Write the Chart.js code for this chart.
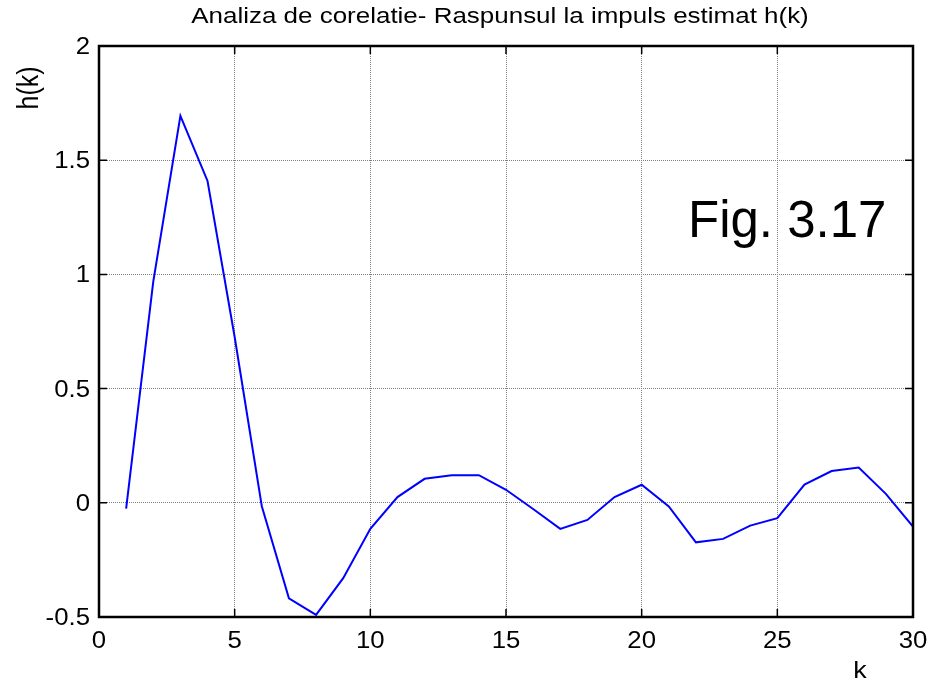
<!DOCTYPE html>
<html>
<head>
<meta charset="utf-8">
<title>Analiza de corelatie</title>
<script src="https://cdn.jsdelivr.net/npm/chart.js@4"></script>
<style>
  html, body { margin: 0; padding: 0; background: #fff; }
  canvas { display: block; }
</style>
</head>
<body>
<canvas id="myChart" width="938" height="686"></canvas>
<script>
// estimated impulse response h(k), k = 1..30
const kValues = [1, 2, 3, 4, 5, 6, 7, 8, 9, 10, 11, 12, 13, 14, 15,
  16, 17, 18, 19, 20, 21, 22, 23, 24, 25, 26, 27, 28, 29, 30];
const hValues = [-0.026, 0.968, 1.694, 1.409, 0.726, -0.015, -0.418, -0.491, -0.33, -0.114,
  0.025, 0.105, 0.121, 0.121, 0.057, -0.027, -0.114, -0.075, 0.025, 0.079,
  -0.016, -0.173, -0.158, -0.100, -0.067, 0.080, 0.139, 0.154, 0.039, -0.104];

const xTicks = [0, 5, 10, 15, 20, 25, 30];
const yTicks = [-0.5, 0, 0.5, 1, 1.5, 2];

const titleText = 'Analiza de corelatie- Raspunsul la impuls estimat h(k)';
const figText = 'Fig. 3.17';

const FONT = '"Liberation Sans", Arial, Helvetica, sans-serif';

// text drawn a bit wider than the font, like the old figure export
function drawText(ctx, text, x, y, align, size, sx) {
  ctx.save();
  ctx.translate(x, y);
  ctx.scale(sx, 1);
  ctx.font = size + 'px ' + FONT;
  ctx.textAlign = align;
  ctx.textBaseline = 'alphabetic';
  ctx.fillStyle = '#000';
  ctx.fillText(text, 0, 0);
  ctx.restore();
}

// box, inward ticks and all the labels (matlab style axes)
const matlabAxes = {
  id: 'matlabAxes',
  afterDraw(chart) {
    const ctx = chart.ctx;
    const { left, right, top, bottom } = chart.chartArea;
    const xs = chart.scales.x, ys = chart.scales.y;
    const tl = 8;

    ctx.save();
    ctx.strokeStyle = '#000';
    ctx.lineWidth = 1.5;
    ctx.beginPath();
    xTicks.forEach(v => {
      const px = xs.getPixelForValue(v);
      ctx.moveTo(px, bottom); ctx.lineTo(px, bottom - tl);
      ctx.moveTo(px, top); ctx.lineTo(px, top + tl);
    });
    yTicks.forEach(v => {
      const py = ys.getPixelForValue(v);
      ctx.moveTo(left, py); ctx.lineTo(left + tl, py);
      ctx.moveTo(right, py); ctx.lineTo(right - tl, py);
    });
    ctx.stroke();

    ctx.lineWidth = 2.5;
    ctx.strokeRect(left, top, right - left, bottom - top);
    ctx.restore();

    // tick labels
    xTicks.forEach(v => {
      drawText(ctx, String(v), xs.getPixelForValue(v), 648, 'center', 23, 1.12);
    });
    yTicks.forEach(v => {
      drawText(ctx, String(v), 90, ys.getPixelForValue(v) + 8, 'right', 23, 1.12);
    });

    // title + axis labels
    drawText(ctx, titleText, 500, 23, 'center', 22, 1.18);
    drawText(ctx, 'k', 860, 678, 'center', 24, 1.12);

    ctx.save();
    ctx.translate(38, 88);
    ctx.rotate(-Math.PI / 2);
    ctx.scale(1, 1.17);
    ctx.font = '25px ' + FONT;
    ctx.textAlign = 'center';
    ctx.textBaseline = 'alphabetic';
    ctx.fillStyle = '#000';
    ctx.fillText('h(k)', 0, 0);
    ctx.restore();

    drawText(ctx, figText, 688, 237, 'left', 51, 1.0);
  }
};

var ctx = document.getElementById('myChart').getContext('2d');

var myChart = new Chart(ctx, {
  type: 'line',
  data: {
    datasets: [{
      label: 'h(k)',
      data: kValues.map((k, i) => ({ x: k, y: hValues[i] })),
      borderColor: '#0000ff',
      backgroundColor: '#0000ff',
      borderWidth: 2,
      pointRadius: 0,
      fill: false,
      tension: 0
    }]
  },
  options: {
    responsive: false,
    animation: false,
    layout: { padding: { left: 99, right: 25, top: 46, bottom: 69 } },
    plugins: {
      legend: { display: false },
      tooltip: { enabled: false },
      title: { display: false }
    },
    scales: {
      x: {
        type: 'linear',
        min: 0,
        max: 30,
        ticks: { stepSize: 5, display: false },
        grid: { color: '#808080', lineWidth: 1, drawTicks: false },
        border: { display: false, dash: [1, 1] },
        afterFit: (scale) => { scale.height = 0; }
      },
      y: {
        min: -0.5,
        max: 2,
        ticks: { stepSize: 0.5, display: false },
        grid: { color: '#808080', lineWidth: 1, drawTicks: false },
        border: { display: false, dash: [1, 1] },
        afterFit: (scale) => { scale.width = 0; }
      }
    }
  },
  plugins: [matlabAxes]
});
</script>
</body>
</html>
